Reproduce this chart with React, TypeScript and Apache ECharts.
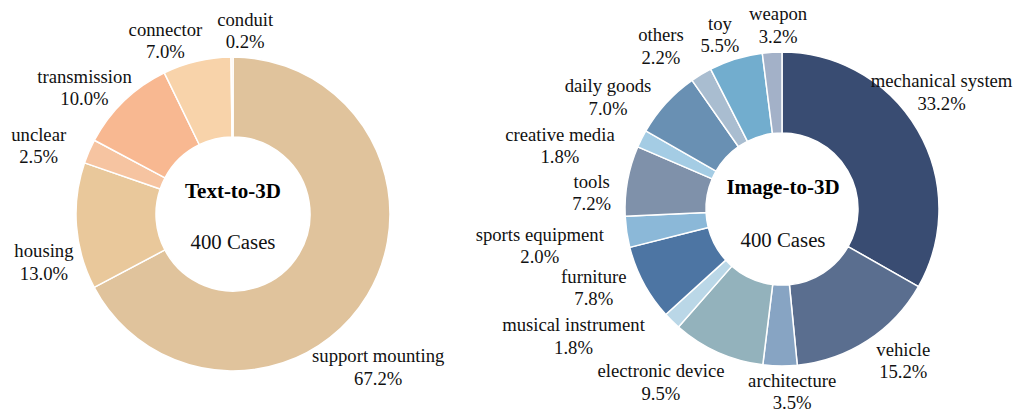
import React, { useEffect, useRef } from "react";
import * as echarts from "echarts";

// ---- Text-to-3D (left donut) ----
const leftNames = ["support mounting", "housing", "unclear", "transmission", "connector", "conduit"];
const leftValues = [67.2, 13.0, 2.5, 10.0, 7.0, 0.2];
const leftLabels = ["67.2%", "13.0%", "2.5%", "10.0%", "7.0%", "0.2%"];
const leftColors = ["#E0C39C", "#E9C89B", "#F6C4A1", "#F8B891", "#F8D3AA", "#FBE6D2"];
// label placement: [angle clockwise from 12 o'clock (deg), distance from centre (px)]
const leftLabelPolar = [
  [136.5, 211], [255.8, 195], [289.4, 206], [310.4, 195], [338.7, 186], [3.8, 184],
];

// ---- Image-to-3D (right donut) ----
const rightNames = [
  "mechanical system", "vehicle", "architecture", "electronic device", "musical instrument",
  "furniture", "sports equipment", "tools", "creative media", "daily goods", "others", "toy", "weapon",
];
const rightValues = [33.2, 15.2, 3.5, 9.5, 1.8, 7.8, 3.2, 7.2, 1.8, 7.0, 2.2, 5.5, 2.0];
const rightLabels = ["33.2%", "15.2%", "3.5%", "9.5%", "1.8%", "7.8%", "2.0%", "7.2%", "1.8%", "7.0%", "2.2%", "5.5%", "3.2%"];
const rightColors = [
  "#394C72", "#5A6E8F", "#87A4C3", "#93B2BC", "#BAD7E7", "#4D75A3", "#8BB8D8",
  "#7F91AA", "#A4CCE4", "#6990B3", "#A9BDD0", "#72ADCE", "#A3B1C8",
];
const rightLabelPolar = [
  [53.7, 198], [141.3, 194], [176.8, 183], [215.0, 211], [238.7, 244], [247.3, 204], [261.4, 245],
  [274.9, 191], [286.0, 231], [302.8, 207], [323.4, 203], [340.4, 185], [358.8, 184],
];

const FONT = "Liberation Serif";

const LEFT = { cx: 233, cy: 214, r0: 77, r: 157, title: "Text-to-3D", tx: 233, ty1: 191, ty2: 241 };
const RIGHT = { cx: 782, cy: 209, r0: 76, r: 157, title: "Image-to-3D", tx: 783, ty1: 187, ty2: 239 };

function makeSeries(
  geo: typeof LEFT,
  names: string[],
  values: number[],
  labels: string[],
  colors: string[],
  polar: number[][]
) {
  return {
    type: "pie",
    center: [geo.cx, geo.cy],
    radius: [geo.r0, geo.r],
    startAngle: 90,
    clockwise: true,
    avoidLabelOverlap: false,
    silent: true,
    emphasis: { disabled: true },
    itemStyle: { borderColor: "#ffffff", borderWidth: 1.5 },
    label: {
      show: true,
      position: "outside",
      fontFamily: FONT,
      fontSize: 18.7,
      lineHeight: 22.5,
      color: "#111111",
      align: "center",
      formatter: (p: any) => `${p.name}\n${labels[p.dataIndex]}`,
    },
    labelLine: { show: false },
    labelLayout: (p: any) => {
      const [a, d] = polar[p.dataIndex];
      const rad = (a * Math.PI) / 180;
      return {
        x: geo.cx + d * Math.sin(rad),
        y: geo.cy - d * Math.cos(rad),
        align: "center",
        verticalAlign: "middle",
      };
    },
    data: names.map((n, i) => ({ name: n, value: values[i], itemStyle: { color: colors[i] } })),
  };
}

function centerTexts(geo: typeof LEFT) {
  return [
    {
      type: "text",
      x: geo.tx,
      y: geo.ty1,
      style: {
        text: geo.title,
        fontFamily: FONT,
        fontSize: 21,
        fontWeight: "bold",
        fill: "#000000",
        align: "center",
        verticalAlign: "middle",
      },
    },
    {
      type: "text",
      x: geo.tx,
      y: geo.ty2,
      style: {
        text: "400 Cases",
        fontFamily: FONT,
        fontSize: 20.8,
        fill: "#111111",
        align: "center",
        verticalAlign: "middle",
      },
    },
  ];
}

export default function App() {
  const ref = useRef<HTMLDivElement>(null);
  useEffect(() => {
    if (!ref.current) return;
    const chart = echarts.init(ref.current, undefined, { renderer: "svg" });
    chart.setOption({
      animation: false,
      backgroundColor: "#ffffff",
      textStyle: { fontFamily: FONT },
      series: [
        makeSeries(LEFT, leftNames, leftValues, leftLabels, leftColors, leftLabelPolar),
        makeSeries(RIGHT, rightNames, rightValues, rightLabels, rightColors, rightLabelPolar),
      ],
      graphic: [...centerTexts(LEFT), ...centerTexts(RIGHT)],
    } as any);
    return () => chart.dispose();
  }, []);
  return (
    <div
      ref={ref}
      style={{ position: "fixed", left: 0, top: 0, width: 1018, height: 415, background: "#fff" }}
    />
  );
}
